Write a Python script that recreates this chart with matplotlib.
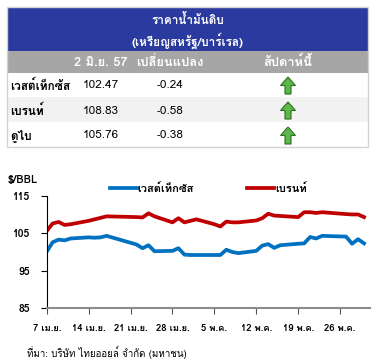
import matplotlib
matplotlib.use("Agg")
from matplotlib import pyplot as plt
from matplotlib import font_manager, patches
from matplotlib.ft2font import FT2Font
import pandas as pd

# look for any installed font that has Thai glyphs
thai = None
for f in font_manager.fontManager.ttflist:
    try:
        if 0x0E01 in FT2Font(f.fname).get_charmap():
            thai = f.name
            break
    except Exception:
        pass
fams = ['Liberation Sans', 'DejaVu Sans']
if thai:
    fams = [thai] + fams
plt.rcParams['font.family'] = fams

# table data
title1 = "ราคาน้ำมันดิบ"
title2 = "(เหรียญสหรัฐ/บาร์เรล)"
head = ["2 มิ.ย. 57", "เปลี่ยนแปลง", "สัปดาห์นี้"]
names = ["เวสต์เท็กซัส", "เบรนท์", "ดูไบ"]
price = ["102.47", "108.83", "105.76"]
change = ["-0.24", "-0.58", "-0.38"]

# chart data
dates = ['2014-04-07', '2014-04-08', '2014-04-09', '2014-04-10', '2014-04-11',
         '2014-04-14', '2014-04-15', '2014-04-16', '2014-04-17',
         '2014-04-22', '2014-04-23', '2014-04-24', '2014-04-25',
         '2014-04-28', '2014-04-29', '2014-04-30', '2014-05-01', '2014-05-02',
         '2014-05-05', '2014-05-06', '2014-05-07', '2014-05-08', '2014-05-09',
         '2014-05-12', '2014-05-13', '2014-05-14', '2014-05-15', '2014-05-16',
         '2014-05-19', '2014-05-20', '2014-05-21', '2014-05-22', '2014-05-23',
         '2014-05-27', '2014-05-28', '2014-05-29', '2014-05-30']
wti = [100.1, 102.6, 103.3, 103.1, 103.6,
       103.9, 103.8, 103.9, 104.3,
       102.0, 101.0, 101.8, 100.2,
       100.3, 101.0, 99.3, 99.2, 99.2,
       99.2, 99.2, 100.6, 100.0, 99.7,
       100.3, 101.7, 102.1, 101.1, 101.8,
       102.2, 102.3, 104.0, 103.6, 104.3,
       104.1, 102.2, 103.4, 102.3]
brent = [105.6, 107.6, 108.0, 107.2, 107.4,
         108.3, 108.7, 109.1, 109.5,
         109.3, 109.2, 110.3, 109.5,
         107.9, 109.0, 107.9, 108.3, 108.7,
         107.4, 106.8, 108.1, 107.9, 107.9,
         108.4, 109.0, 110.2, 109.7, 109.6,
         109.3, 110.6, 110.6, 110.4, 110.6,
         110.1, 110.0, 110.0, 109.3]
xlabels = ["7 เม.ย.", "14 เม.ย.", "21 เม.ย.", "28 เม.ย.",
           "5 พ.ค.", "12 พ.ค.", "19 พ.ค.", "26 พ.ค."]
yticks = [85, 95, 105, 115]

fig = plt.figure(figsize=(3.79, 3.63), dpi=100)
fig.patch.set_facecolor('white')

# overlay axes in pixel units for the table and loose text
ax_t = fig.add_axes([0, 0, 1, 1])
ax_t.set_xlim(0, 379)
ax_t.set_ylim(363, 0)
ax_t.axis('off')

blue_bg = '#2B3A9E'
ax_t.add_patch(patches.Rectangle((7, 7), 361, 44, fc=blue_bg, ec='none'))
ax_t.add_patch(patches.Rectangle((7, 51), 361, 22, fc='#A6A6A6', ec='none'))
ax_t.add_patch(patches.Rectangle((7, 97), 361, 25, fc='#F2F2F2', ec='none'))
ax_t.add_patch(patches.Rectangle((7, 7), 361, 140, fc='none', ec='#D4D4D4', lw=1))

ax_t.text(188, 19, title1, color='white', fontsize=8.5, fontweight='bold', ha='center', va='center')
ax_t.text(188, 41, title2, color='white', fontsize=8.5, fontweight='bold', ha='center', va='center')

colx = [101, 170, 288]
for i in range(len(head)):
    ax_t.text(colx[i], 62, head[i], color='white', fontsize=9.3, fontweight='bold', ha='center', va='center')

rowy = [85.5, 110.5, 135.5]
for i in range(len(names)):
    ax_t.text(10, rowy[i], names[i], fontsize=8.5, fontweight='bold', ha='left', va='center')
    ax_t.text(colx[0], rowy[i], price[i], fontsize=8.5, ha='center', va='center')
    ax_t.text(colx[1], rowy[i], change[i], fontsize=8.5, ha='center', va='center')
    ax_t.add_patch(patches.FancyArrow(colx[2], rowy[i] + 8.5, 0, -17, width=6, head_width=15,
                                      head_length=8.5, length_includes_head=True,
                                      fc='#5CB84A', ec='#2D6E1F', lw=0.8))

ax_t.text(8, 180, "$/BBL", fontsize=8, fontweight='bold', ha='left', va='center')
ax_t.text(27, 352, "ที่มา: บริษัท ไทยออยล์ จำกัด (มหาชน)", fontsize=7, ha='left', va='center')

# the line chart
d = pd.to_datetime(dates)
ax = fig.add_axes([0.1232, 0.1507, 0.8531, 0.3102])
ax.plot(d, wti, color='#0070C0', lw=2.7, label="เวสต์เท็กซัส")
ax.plot(d, brent, color='#C00000', lw=2.7, label="เบรนท์")
ax.set_ylim(85, 115)
ax.set_yticks(yticks)
ax.set_yticklabels([str(v) for v in yticks], fontsize=7.5, fontweight='bold')
ticks = pd.date_range('2014-04-07', periods=8, freq='7D')
ax.set_xlim(pd.Timestamp('2014-04-07'), pd.Timestamp('2014-05-31'))
ax.set_xticks(ticks)
ax.set_xticklabels(xlabels, fontsize=6.8, fontweight='bold')
ax.spines['top'].set_visible(False)
ax.spines['right'].set_visible(False)
ax.spines['left'].set_color('black')
ax.spines['bottom'].set_color('#8C8C8C')
ax.spines['bottom'].set_linewidth(1.5)
ax.tick_params(axis='x', length=4, color='#555555', pad=7)
ax.tick_params(axis='y', length=4, pad=8)
ax.set_facecolor('none')
ax.legend(loc='center', bbox_to_anchor=(0.50, 1.06), ncol=2, frameon=False,
          handlelength=2.4, columnspacing=4.8, handletextpad=0.1,
          prop={'weight': 'bold', 'size': 8})

plt.savefig('out.png', dpi=100)
